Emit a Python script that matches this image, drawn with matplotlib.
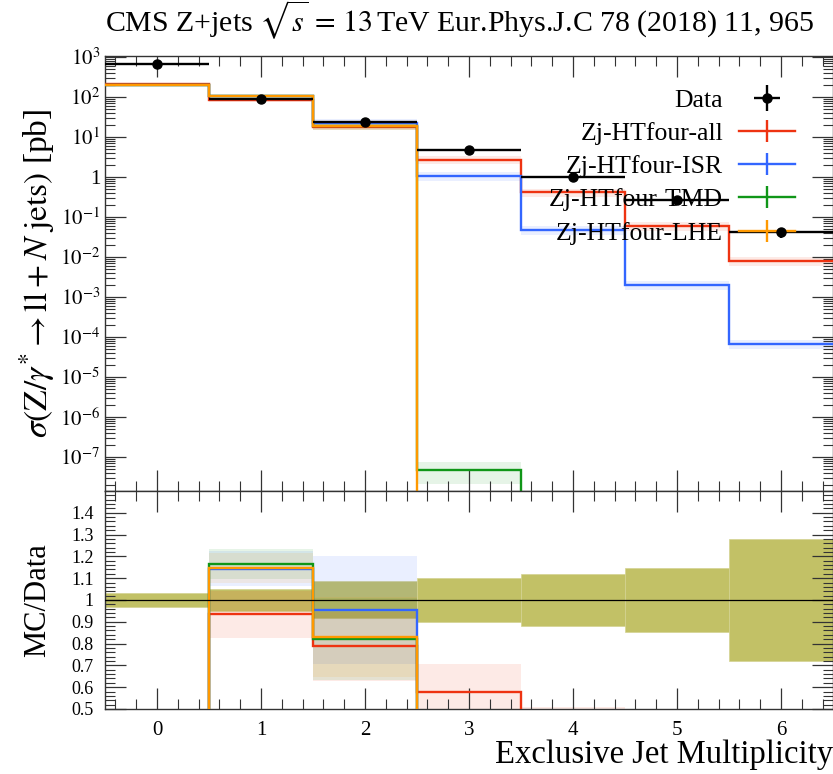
import numpy as np
import matplotlib
matplotlib.use('Agg')
import matplotlib.pyplot as plt
import matplotlib.ticker as mticker
from matplotlib.lines import Line2D

plt.rcParams['font.family'] = ['Liberation Serif', 'DejaVu Serif']
plt.rcParams['mathtext.fontset'] = 'stix'

# Exclusive jet multiplicity bins
njets = np.arange(7)
edges = np.arange(-0.5, 7.0, 1.0)

# Measured cross section [pb] and relative uncertainty
data = np.array([660., 91., 23., 4.6, 1.0, 0.27, 0.042])
data_err = np.array([0.03, 0.05, 0.085, 0.10, 0.12, 0.145, 0.28])

# MC predictions [pb] and relative uncertainties
labels = ['Zj-HTfour-all', 'Zj-HTfour-ISR', 'Zj-HTfour-TMD', 'Zj-HTfour-LHE']
colors = ['#ee3311', '#3366ff', '#109618', '#ff9900']
mc_all = np.array([205., 85., 18.1, 2.66, 0.41, 0.060, 0.0079])
mc_isr = np.array([200., 104., 21.9, 1.06, 0.048, 0.0020, 6.6e-5])
mc_tmd = np.array([195., 106., 18.9, 4.7e-8, 0., 0., 0.])
mc_lhe = np.array([195., 104.5, 19.1, 0., 0., 0., 0.])
err_all = np.array([0.10, 0.115, 0.20, 0.22, 0.24, 0.25, 0.25])
err_isr = np.array([0.07, 0.07, 0.26, 0.25, 0.25, 0.25, 0.25])
err_tmd = np.array([0.06, 0.058, 0.23, 0.55, 0., 0., 0.])
err_lhe = np.array([0.06, 0.06, 0.22, 0., 0., 0., 0.])
mc = [mc_all, mc_isr, mc_tmd, mc_lhe]
mc_err = [err_all, err_isr, err_tmd, err_lhe]

fig = plt.figure(figsize=(8.33, 7.74), dpi=100)
ax = fig.add_axes([0.126, 0.3656, 0.874, 0.562])
rax = fig.add_axes([0.126, 0.084, 0.874, 0.2817], sharex=ax)

floor = 1e-12
handles = []
for vals, errs, col, lab in zip(mc, mc_err, colors, labels):
    ok = vals > 0
    # uncertainty bands
    lo, hi = vals * (1 - errs), vals * (1 + errs)
    ax.bar(njets[ok], (hi - lo)[ok], bottom=lo[ok], width=1.0, color=col, alpha=0.1, lw=0)
    r = vals / data
    rax.bar(njets[ok], (2 * r * errs)[ok], bottom=(r * (1 - errs))[ok], width=1.0,
            color=col, alpha=0.1, lw=0)
    ax.stairs(np.where(ok, vals, floor), edges, baseline=None, color=col, lw=1.7, zorder=3)
    rax.stairs(r, edges, baseline=None, color=col, lw=1.7, zorder=3)
    handles.append(Line2D([], [], color=col, lw=1.7, marker='|', markersize=16, mew=1.7))

eb = ax.errorbar(njets, data, xerr=0.5, yerr=data * data_err, fmt='o', color='black',
                 ms=6.5, elinewidth=1.7, capsize=0, zorder=5)
handles.insert(0, eb)

# data uncertainty band in the ratio panel
rax.bar(njets, 2 * data_err, bottom=1 - data_err, width=1.0, color='#c2c166', lw=0.5,
        edgecolor='#d4d392', zorder=0)
rax.axhline(1.0, color='black', lw=0.9, zorder=4)

ax.set_yscale('log')
ax.set_ylim(1.4e-8, 1.05e3)
ax.set_xlim(-0.5, 6.5)
rax.set_ylim(0.5, 1.5)

ax.yaxis.set_major_locator(mticker.LogLocator(base=10, numticks=30))
ax.yaxis.set_minor_locator(mticker.LogLocator(base=10, subs=np.arange(2, 10), numticks=300))
ax.yaxis.set_minor_formatter(mticker.NullFormatter())


def logfmt(v, pos):
    e = int(round(np.log10(v)))
    return '1' if e == 0 else r'$10^{%d}$' % e


ax.yaxis.set_major_formatter(mticker.FuncFormatter(logfmt))
rax.yaxis.set_major_locator(mticker.FixedLocator(np.arange(0.5, 1.45, 0.1)))
rax.yaxis.set_minor_locator(mticker.MultipleLocator(0.02))
rax.yaxis.set_major_formatter(mticker.FuncFormatter(lambda v, p: '%g' % round(v, 1)))
rax.xaxis.set_major_locator(mticker.MultipleLocator(1))
rax.xaxis.set_minor_locator(mticker.MultipleLocator(0.2))

for a in (ax, rax):
    a.tick_params(which='both', direction='in', top=True, right=True, color='#333333')
    a.tick_params(which='major', length=15, width=0.9)
    a.tick_params(which='minor', length=7, width=0.8)
    for s in a.spines.values():
        s.set_linewidth(1.0)
        s.set_color('#333333')
ax.tick_params(labelbottom=False, labelsize=15)
rax.tick_params(axis='y', labelsize=13, pad=8)
rax.tick_params(axis='x', labelsize=15, pad=9)

ax.set_ylabel(r'$\sigma(\mathrm{Z}/\gamma^{*} \rightarrow \mathrm{ll} + N\ \mathrm{jets})$ [pb]',
              fontsize=24, labelpad=2)
rax.set_ylabel('MC/Data', fontsize=22, labelpad=14)
rax.set_xlabel('Exclusive Jet Multiplicity', fontsize=23.5, loc='right', labelpad=-1)
ax.set_title(r'CMS Z+jets $\sqrt{s}\,=\,13\,$TeV Eur.Phys.J.C 78 (2018) 11, 965',
             loc='left', fontsize=21.5, pad=17)

ax.legend(handles, ['Data'] + labels, loc='upper right', bbox_to_anchor=(0.948, 0.925),
          frameon=False, markerfirst=False, fontsize=18.5, handlelength=2.2,
          handletextpad=0.6, labelspacing=0.4, borderaxespad=0, borderpad=0)

fig.savefig('out.png', dpi=100)
